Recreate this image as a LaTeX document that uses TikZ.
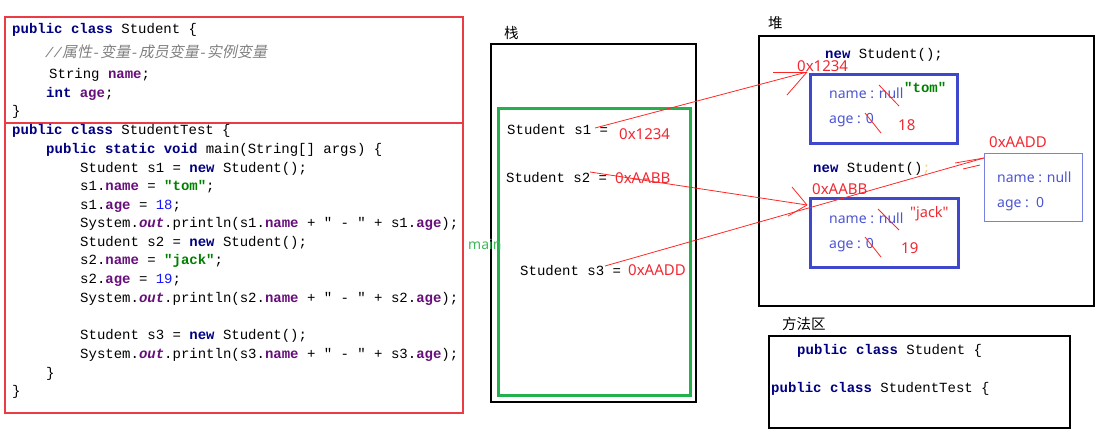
\documentclass[tikz,border=0pt]{standalone}
\usepackage{fontspec}
\setmainfont{Noto Sans}
\setmonofont{Liberation Mono}
\newfontfamily\nsans{Noto Sans}
\newfontfamily\cjk{Noto Sans CJK SC}
\newfontfamily\cjkit[FakeSlant=0.2]{Noto Sans CJK SC}
\definecolor{kwc}{RGB}{0,0,128}
\definecolor{fldc}{RGB}{102,14,122}
\definecolor{strc}{RGB}{0,128,0}
\definecolor{numc}{RGB}{20,20,255}
\definecolor{cmtc}{RGB}{128,128,128}
\definecolor{panelred}{RGB}{235,60,70}
\definecolor{addrred}{RGB}{240,40,50}
\definecolor{stackgreen}{RGB}{34,177,76}
\definecolor{mainc}{RGB}{60,185,90}
\definecolor{objblue}{RGB}{63,72,204}
\definecolor{objtext}{RGB}{75,85,210}
\definecolor{obj3c}{RGB}{120,128,225}
\definecolor{semiy}{RGB}{235,215,140}
\newcommand\jkw[1]{\textcolor{kwc}{\bfseries #1}}
\newcommand\jfld[1]{\textcolor{fldc}{\bfseries #1}}
\newcommand\jstr[1]{\textcolor{strc}{\bfseries #1}}
\newcommand\jnum[1]{\textcolor{numc}{#1}}
\newcommand\jout{\textcolor{fldc}{\bfseries\itshape out}}
\begin{document}
\begin{tikzpicture}[x=1pt,y=-1pt,
  code/.style={anchor=base west,inner sep=0pt,font=\ttfamily\fontsize{14}{14}\selectfont},
  cjklabel/.style={anchor=west,inner sep=0pt,font=\cjk\fontsize{14.5}{15}\selectfont},
  addr/.style={anchor=base west,inner sep=0pt,text=addrred,font=\fontsize{15}{15}\selectfont},
  fieldtxt/.style={anchor=base west,inner sep=0pt,text=objtext,font=\fontsize{14}{14}\selectfont},
  blackbox/.style={draw=black,line width=2.2pt,anchor=north west,inner sep=0pt},
  objbox/.style={draw=objblue,line width=2.5pt,anchor=north west,inner sep=0pt},
  panelline/.style={draw=panelred,line width=1.2pt},
  redline/.style={draw=red!85!white,line width=0.8pt},
]
\useasboundingbox (0,0) rectangle (1110,447);

% ---------- code panel ----------
\coordinate (pTL) at (5,17);
\coordinate (pBR) at (463,413);
\coordinate (pML) at (5,123);
\coordinate (pMR) at (463,123);
\draw[panelline] (pTL) rectangle (pBR);
\draw[panelline] (pML) -- (pMR);

\node[code] (c1) at (12,33) {\jkw{public} \jkw{class} Student \{};
\node[code] (c2) at (45,57) {\color{cmtc}{\itshape //}{\cjkit\fontsize{15}{15}\selectfont 属性}{\itshape -}{\cjkit\fontsize{15}{15}\selectfont 变量}{\itshape -}{\cjkit\fontsize{15}{15}\selectfont 成员变量}{\itshape -}{\cjkit\fontsize{15}{15}\selectfont 实例变量}};
\node[code] (c3) at (49,78) {String \jfld{name};};
\node[code] (c4) at (46,97) {\jkw{int} \jfld{age};};
\node[code] (c5) at (12,115) {\}};
\node[code] (c6) at (12,134) {\jkw{public} \jkw{class} StudentTest \{};
\node[code] (c7) at (46,153) {\jkw{public} \jkw{static} \jkw{void} main(String[] args) \{};
\node[code] (c8) at (80,172) {Student s1 = \jkw{new} Student();};
\node[code] (c9) at (80,190) {s1.\jfld{name} = \jstr{"tom"};};
\node[code] (c10) at (80,209) {s1.\jfld{age} = \jnum{18};};
\node[code] (c11) at (80,227) {System.\jout.println(s1.\jfld{name} + " - " + s1.\jfld{age});};
\node[code] (c12) at (80,246) {Student s2 = \jkw{new} Student();};
\node[code] (c13) at (80,264) {s2.\jfld{name} = \jstr{"jack"};};
\node[code] (c14) at (80,283) {s2.\jfld{age} = \jnum{19};};
\node[code] (c15) at (80,302) {System.\jout.println(s2.\jfld{name} + " - " + s2.\jfld{age});};
\node[code] (c16) at (80,339) {Student s3 = \jkw{new} Student();};
\node[code] (c17) at (80,358) {System.\jout.println(s3.\jfld{name} + " - " + s3.\jfld{age});};
\node[code] (c18) at (46,377) {\}};
\node[code] (c19) at (12,395) {\}};

% ---------- stack ----------
\node[cjklabel] (stkl) at (504,33) {栈};
\node[blackbox,minimum width=205pt,minimum height=358pt] (stack) at (490,43) {};
\node[draw=stackgreen,line width=2.5pt,anchor=north west,inner sep=0pt,minimum width=192pt,minimum height=287pt] (frame) at (497,107) {};
\node[anchor=base west,inner sep=0pt,text=mainc,font=\fontsize{14}{14}\selectfont] (mainl) at (468,249) {main};
\node[code] (v1) at (507,134) {Student s1 =};
\node[addr] (a1) at (619,139) {0x1234};
\node[code] (v2) at (506,182) {Student s2 =};
\node[addr] (a2) at (615,183) {0xAABB};
\node[code] (v3) at (520,275) {Student s3 =};
\node[addr] (a3) at (628,275) {0xAADD};

% ---------- heap ----------
\node[cjklabel] (heapl) at (768,23) {堆};
\node[blackbox,minimum width=335pt,minimum height=270pt] (heap) at (758,35) {};
\node[code] (n1) at (825,58) {\jkw{new} Student();};
\node[addr] (h1) at (797,71) {0x1234};
\node[objbox,minimum width=147pt,minimum height=69pt] (obj1) at (809,73) {};
\node[fieldtxt] (o1n) at (829,98) {name : null};
\node[fieldtxt] (o1a) at (829,123) {age : 0};
\node[code] (o1s) at (904,92) {\jstr{"tom"}};
\node[addr] (o1v) at (898,130) {18};

\node[code] (n2) at (813,172) {\jkw{new} Student()\textcolor{semiy}{;}};
\node[addr] (h2) at (812,194) {0xAABB};
\node[objbox,minimum width=148pt,minimum height=69pt] (obj2) at (809,197) {};
\node[fieldtxt] (o2n) at (829,223) {name : null};
\node[fieldtxt] (o2a) at (829,248) {age : 0};
\node[addr,font=\nsans\fontsize{14.5}{14.5}\selectfont] (o2s) at (910,217) {"jack"};
\node[addr] (o2v) at (901,253) {19};

\node[addr] (h3) at (989,147) {0xAADD};
\node[draw=obj3c,line width=1pt,anchor=north west,inner sep=0pt,minimum width=98pt,minimum height=68pt] (obj3) at (984,153) {};
\node[fieldtxt] (o3n) at (997,182) {name : null};
\node[fieldtxt] (o3a) at (997,207) {age :\ \ 0};

% ---------- method area ----------
\node[cjklabel] (methl) at (782,324) {方法区};
\node[blackbox,minimum width=301pt,minimum height=92pt] (meth) at (768,335) {};
\node[code] (m1) at (797,354) {\jkw{public} \jkw{class} Student \{};
\node[code] (m2) at (771,392) {\jkw{public} \jkw{class} StudentTest \{};

% ---------- references ----------
\coordinate (s1p) at (595,128);
\coordinate (t1) at (807,72);
\coordinate (t1a) at (773,72);
\coordinate (t1b) at (787,95);
\coordinate (s2p) at (590,172);
\coordinate (t2) at (807,205);
\coordinate (t2a) at (792,187);
\coordinate (t2b) at (788,216);
\coordinate (s3p) at (605,266);
\coordinate (t3) at (984,158);
\coordinate (t3a) at (955,163);
\coordinate (t3b) at (963,169);
\coordinate (t3c) at (980,165);
\draw[redline] (s1p) -- (t1);
\draw[redline] (t1a) -- (t1);
\draw[redline] (t1b) -- (t1);
\draw[redline] (s2p) -- (t2);
\draw[redline] (t2a) -- (t2);
\draw[redline] (t2b) -- (t2);
\draw[redline] (s3p) -- (t3);
\draw[redline] (t3a) -- (t3);
\draw[redline] (t3b) -- (t3c);

% strike-throughs
\coordinate (k1a) at (879,85); \coordinate (k1b) at (899,106);
\coordinate (k2a) at (865,113); \coordinate (k2b) at (881,133);
\coordinate (k3a) at (878,209); \coordinate (k3b) at (899,230);
\coordinate (k4a) at (865,237); \coordinate (k4b) at (881,257);
\draw[redline] (k1a) -- (k1b);
\draw[redline] (k2a) -- (k2b);
\draw[redline] (k3a) -- (k3b);
\draw[redline] (k4a) -- (k4b);
\end{tikzpicture}
\end{document}
